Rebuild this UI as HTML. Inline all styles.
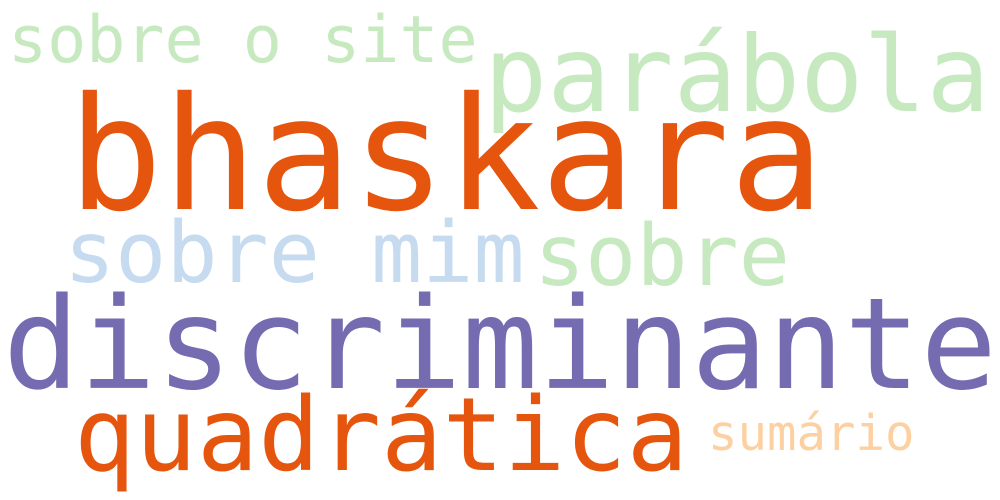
<!DOCTYPE html>
<html><head><meta charset="utf-8"><style>
html,body{margin:0;padding:0;background:#fff;}
svg{display:block;}
text{font-family:"DejaVu Sans Mono","Liberation Mono",monospace;}
</style></head><body>
<svg width="1000" height="500" viewBox="0 0 1000 500">
<rect width="1000" height="500" fill="#fff"/>
<text x="8" y="62" font-size="65" fill="#c7e9c0">sobre o site</text>
<text x="484" y="111" font-size="105" fill="#c7e9c0">parábola</text>
<text x="68" y="209" font-size="157" fill="#e6550d">bhaskara</text>
<text x="64" y="282" font-size="85" fill="#c6dbef">sobre mim</text>
<text x="534" y="285" font-size="85" fill="#c7e9c0">sobre</text>
<text x="3" y="388" font-size="127" fill="#756bb1">discriminante</text>
<text x="74" y="470" font-size="102" fill="#e6550d">quadrática</text>
<text x="708" y="450" font-size="49" fill="#fdd0a2">sumário</text>
</svg>
</body></html>
